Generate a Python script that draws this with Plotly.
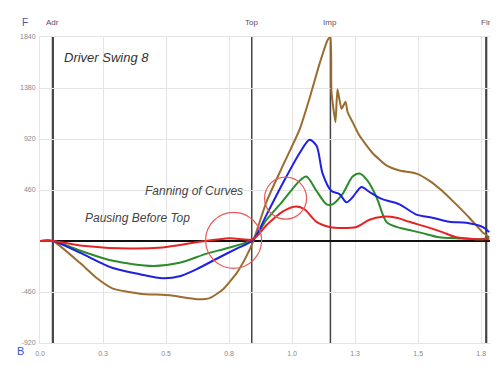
import plotly.graph_objects as go

# ---- data (time in s, force) ----
brown_t = [0.0, 0.051, 0.158, 0.226, 0.289, 0.396, 0.515, 0.622, 0.673, 0.725, 0.780, 0.820, 0.844,
           0.899, 0.962, 1.030, 1.069, 1.109, 1.141, 1.152, 1.156, 1.172, 1.180, 1.196, 1.212, 1.220,
           1.240, 1.267, 1.319, 1.374, 1.426, 1.493, 1.545, 1.596, 1.651, 1.703, 1.755, 1.782]
brown_v = [0, 0, -197, -336, -429, -475, -490, -525, -515, -438, -290, -132, -12,
           358, 673, 1007, 1285, 1600, 1813, 1840, 1350, 1072, 1368, 1192, 1257, 1164,
           1072, 951, 794, 683, 636, 608, 543, 451, 330, 210, 80, 34]

blue_t = [0.0, 0.051, 0.158, 0.289, 0.396, 0.487, 0.554, 0.622, 0.701, 0.780, 0.844, 0.899, 0.962,
          1.030, 1.069, 1.097, 1.121, 1.156, 1.188, 1.216, 1.240, 1.275, 1.307, 1.358, 1.426,
          1.493, 1.556, 1.624, 1.691, 1.755, 1.782]
blue_v = [0, 0, -105, -244, -299, -336, -318, -253, -160, -68, 6, 238, 516,
          794, 914, 859, 608, 451, 423, 349, 395, 488, 442, 377, 331,
          238, 210, 173, 164, 127, 80]

green_t = [0.0, 0.051, 0.158, 0.289, 0.448, 0.554, 0.661, 0.752, 0.844, 0.899, 0.962, 1.030, 1.057,
           1.097, 1.137, 1.160, 1.200, 1.240, 1.267, 1.299, 1.335, 1.374, 1.414, 1.465, 1.517,
           1.584, 1.651, 1.755, 1.782]
green_v = [0, 0, -86, -179, -225, -197, -114, -58, 16, 192, 358, 544, 581,
           451, 331, 331, 423, 581, 608, 544, 395, 173, 127, 99, 71,
           34, 25, 16, 34]

red_t = [0.0, 0.051, 0.158, 0.356, 0.487, 0.622, 0.752, 0.844, 0.899, 0.962, 1.018, 1.050, 1.097,
         1.149, 1.200, 1.255, 1.307, 1.358, 1.414, 1.465, 1.533, 1.596, 1.651, 1.735, 1.782]
red_v = [0, 0, -40, -68, -58, -12, 25, 16, 145, 266, 312, 284, 173,
         127, 117, 127, 192, 219, 210, 173, 127, 80, 34, 16, 16]

x_tick_vals = [0, 0.25, 0.5, 0.75, 1.0, 1.25, 1.5, 1.75]
x_tick_text = ["0.0", "0.3", "0.5", "0.8", "1.0", "1.3", "1.5", "1.8"]
y_tick_vals = [1840, 1380, 920, 460, -460, -920]
y_tick_text = ["1840", "1380", "920", "460", "-460", "-920"]

events = ["Adr", "Top", "Imp", "Fin"]
event_t = [0.051, 0.84, 1.152, 1.77]
event_w = [2.2, 1.5, 1.5, 2.2]

circle_t = [0.768, 0.974]
circle_v = [6, 386]
circle_r = [28, 21]

fig = go.Figure()
series = [
    (brown_t, brown_v, "#9a6c30", 0.5),
    (green_t, green_v, "#2a8c2a", 0.8),
    (blue_t, blue_v, "#1f1fe6", 0.8),
    (red_t, red_v, "#e62222", 0.8),
]
for t, v, c, s in series:
    fig.add_trace(go.Scatter(x=t, y=v, mode="lines",
                             line=dict(color=c, width=2, shape="spline", smoothing=s),
                             showlegend=False, hoverinfo="skip"))

for name, t, w in zip(events, event_t, event_w):
    fig.add_shape(type="line", xref="x", yref="paper", x0=t, x1=t, y0=0, y1=1,
                  line=dict(color="#444444", width=w), layer="below")
    fig.add_annotation(x=t, xref="x", y=1, yref="paper", yshift=21, text=name,
                       showarrow=False, font=dict(size=8, color="#5a4a6a"))

for t, v, r in zip(circle_t, circle_v, circle_r):
    fig.add_shape(type="circle", xref="x", yref="y", xsizemode="pixel", ysizemode="pixel",
                  xanchor=t, yanchor=v, x0=-r, x1=r, y0=-r, y1=r,
                  line=dict(color="#e85a5a", width=1.2))

font_ann = dict(family="Arial, Liberation Sans", size=12, color="#444444")
fig.add_annotation(xref="paper", yref="paper", x=0.049, y=0.933, xanchor="left", yanchor="middle",
                   text="<i>Driver Swing 8</i>", showarrow=False,
                   font=dict(family="Arial, Liberation Sans", size=13, color="#333333"))
fig.add_annotation(xref="paper", yref="paper", x=0.229, y=0.497, xanchor="left", yanchor="middle",
                   text="<i>Fanning of Curves</i>", showarrow=False, font=font_ann)
fig.add_annotation(xref="paper", yref="paper", x=0.0956, y=0.409, xanchor="left", yanchor="middle",
                   text="<i>Pausing Before Top</i>", showarrow=False, font=font_ann)
fig.add_annotation(xref="paper", yref="paper", x=0, xshift=-20, y=1, yshift=22, text="F",
                   showarrow=False, font=dict(family="Arial, Liberation Sans", size=10, color="#5050b0"))
fig.add_annotation(xref="paper", yref="paper", x=0, xshift=-25, y=0, yshift=-16, text="B",
                   showarrow=False, font=dict(family="Arial, Liberation Sans", size=11, color="#3050d0"))

# page body has an 8px margin: shrink figure and margins by 8 to keep the plot area in place
fig.update_layout(
    width=490, height=367,
    margin=dict(l=32, r=8, t=29, b=32, autoexpand=False),
    paper_bgcolor="white", plot_bgcolor="white",
    font=dict(family="Arial, Liberation Sans", size=7, color="#777777"),
    xaxis=dict(range=[0, 1.785], tickvals=x_tick_vals, ticktext=x_tick_text, automargin=False,
               showgrid=True, gridcolor="#e4e4e4", gridwidth=1, zeroline=False,
               showline=True, linecolor="#e4e4e4", mirror=True, ticks="",
               ticklabelstandoff=4, tickfont=dict(size=7, color="#888888")),
    yaxis=dict(range=[-920, 1840], tickvals=y_tick_vals, ticktext=y_tick_text, automargin=False,
               showgrid=True, gridcolor="#e4e4e4", gridwidth=1,
               zeroline=True, zerolinecolor="#111111", zerolinewidth=1.5,
               showline=True, linecolor="#e4e4e4", mirror=True, ticks="",
               ticklabelstandoff=2, tickfont=dict(size=7, color="#888888")),
)

fig.write_html("out.html")
